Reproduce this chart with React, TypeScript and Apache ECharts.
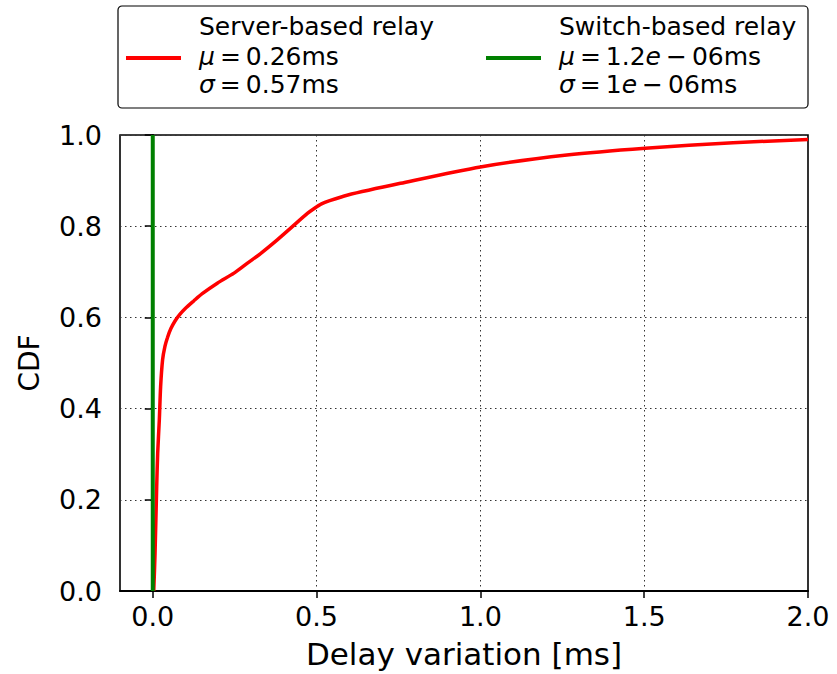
import React, { useEffect, useRef } from "react";
import * as echarts from "echarts";

// ---- data ----
const serverDelay = [0.003, 0.007, 0.012, 0.015, 0.020, 0.024, 0.030, 0.037, 0.045, 0.055, 0.068, 0.082, 0.100, 0.125, 0.151, 0.197, 0.248, 0.289, 0.329, 0.380, 0.426, 0.472, 0.495, 0.515, 0.540, 0.593, 0.756, 1.000, 1.264, 1.503, 1.771, 2.000];
const serverCdf = [0.000, 0.083, 0.229, 0.302, 0.375, 0.448, 0.507, 0.536, 0.556, 0.575, 0.592, 0.606, 0.620, 0.636, 0.652, 0.675, 0.697, 0.719, 0.740, 0.770, 0.799, 0.828, 0.840, 0.849, 0.856, 0.868, 0.894, 0.930, 0.956, 0.971, 0.983, 0.990];
const switchDelay = [0.0, 0.0];
const switchCdf = [0.0, 1.0];

const seriesNames = ["Server-based relay", "Switch-based relay"];
const seriesColors = ["#ff0000", "#008000"];
// legend statistic lines (rich text: it = italic math symbol, n = normal)
const muLines = ["{it|μ}{n|\u2009=\u20090.26ms}", "{it|μ}{n|\u2009=\u20091.2}{it|e}{n|\u2009−\u200906ms}"];
const sigmaLines = ["{it|σ}{n|\u2009=\u20090.57ms}", "{it|σ}{n|\u2009=\u20091}{it|e}{n|\u2009−\u200906ms}"];

const xTicks = [0.0, 0.5, 1.0, 1.5, 2.0];
const xLabel = "Delay variation [ms]";
const yLabel = "CDF";

const FONT = "DejaVu Sans";

export default function App() {
  const ref = useRef<HTMLDivElement>(null);
  useEffect(() => {
    if (!ref.current) return;
    const chart = echarts.init(ref.current, null, { renderer: "svg" });
    const gridStyle = { color: "#333", width: 1, type: [1.5, 3.5] as any };
    const rich = {
      it: { fontFamily: FONT, fontSize: 25, fontStyle: "italic", color: "#000" },
      n: { fontFamily: FONT, fontSize: 25, color: "#000" },
    };
    const legendEls: any[] = [
      {
        type: "rect",
        shape: { x: 118, y: 6, width: 690, height: 102, r: 4 },
        style: { fill: "#fff", stroke: "#000", lineWidth: 1.2 },
        z: 100,
      },
    ];
    const entryX = [126, 486];
    seriesNames.forEach((name, i) => {
      const x0 = entryX[i];
      legendEls.push({
        type: "line",
        shape: { x1: x0, y1: 58, x2: x0 + 55, y2: 58 },
        style: { stroke: seriesColors[i], lineWidth: 4 },
        z: 101,
      });
      legendEls.push({
        type: "text",
        x: x0 + 73,
        y: 26.5,
        style: { text: name, fontFamily: FONT, fontSize: 25, fill: "#000", verticalAlign: "middle" },
        z: 101,
      });
      legendEls.push({
        type: "text",
        x: x0 + 73,
        y: 56.5,
        style: { text: muLines[i], verticalAlign: "middle", rich },
        z: 101,
      });
      legendEls.push({
        type: "text",
        x: x0 + 73,
        y: 84,
        style: { text: sigmaLines[i], verticalAlign: "middle", rich },
        z: 101,
      });
    });

    chart.setOption({
      animation: false,
      backgroundColor: "#fff",
      grid: {
        left: 120,
        right: 29,
        top: 135,
        bottom: 83,
        show: true,
        borderColor: "#000",
        borderWidth: 1.6,
        outerBoundsMode: "none",
        containLabel: false,
      } as any,
      xAxis: {
        type: "value",
        min: -0.1,
        max: 2.0,
        name: xLabel,
        nameLocation: "middle",
        nameGap: 47,
        nameTextStyle: { fontFamily: FONT, fontSize: 31, color: "#000" },
        axisLine: { show: true, onZero: false, lineStyle: { color: "#000", width: 2 } },
        axisTick: { show: true, length: 7, customValues: xTicks, lineStyle: { color: "#000", width: 1.5 } },
        axisLabel: {
          customValues: xTicks,
          margin: 12,
          fontFamily: FONT,
          fontSize: 27,
          color: "#000",
          formatter: (v: number) => v.toFixed(1),
        },
        splitLine: { show: true, lineStyle: gridStyle },
      } as any,
      yAxis: {
        type: "value",
        min: 0,
        max: 1,
        interval: 0.2,
        name: yLabel,
        nameLocation: "middle",
        nameGap: 77,
        nameTextStyle: { fontFamily: FONT, fontSize: 28, color: "#000" },
        axisLine: { show: true, lineStyle: { color: "#000", width: 2 } },
        axisTick: { show: true, length: 8, lineStyle: { color: "#000", width: 1.5 } },
        axisLabel: {
          margin: 18,
          fontFamily: FONT,
          fontSize: 27,
          color: "#000",
          formatter: (v: number) => v.toFixed(1),
        },
        splitLine: { show: true, lineStyle: gridStyle },
      } as any,
      series: [
        {
          name: seriesNames[0],
          type: "line",
          data: serverDelay.map((x, i) => [x, serverCdf[i]]),
          showSymbol: false,
          smooth: 0.25,
          lineStyle: { color: seriesColors[0], width: 3.5 },
          z: 3,
        },
        {
          name: seriesNames[1],
          type: "line",
          data: switchDelay.map((x, i) => [x, switchCdf[i]]),
          showSymbol: false,
          lineStyle: { color: seriesColors[1], width: 4 },
          z: 4,
        },
      ],
      graphic: legendEls,
    });
    return () => chart.dispose();
  }, []);
  return <div ref={ref} style={{ position: "fixed", left: 0, top: 0, width: 837, height: 674 }} />;
}
